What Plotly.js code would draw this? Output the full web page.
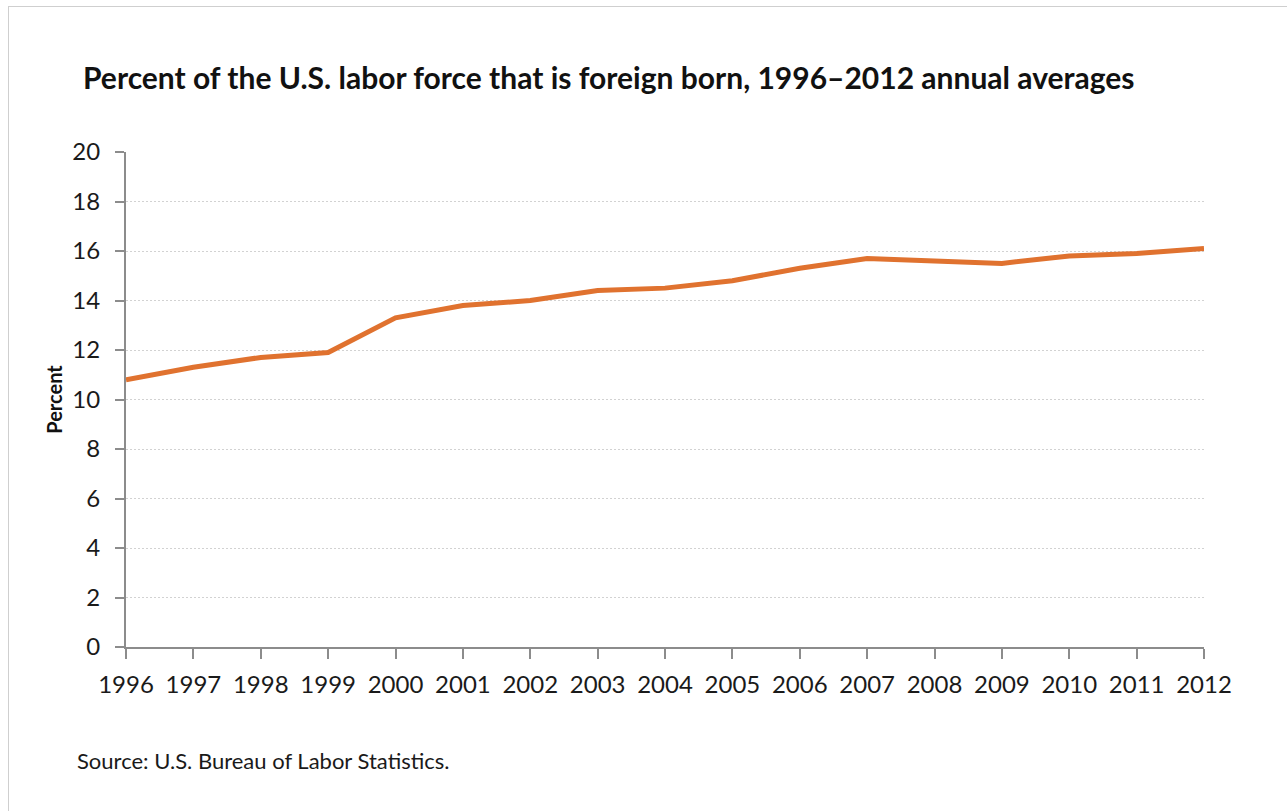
<!DOCTYPE html>
<html>
<head>
<meta charset="utf-8">
<script src="https://cdn.plot.ly/plotly-3.0.1.min.js"></script>
<style>
  html, body { margin: 0; padding: 0; background: #ffffff; }
  #chart { width: 1287px; height: 811px; }
  #frame { position: absolute; left: 8px; top: 6px; width: 1400px; height: 900px;
           border-left: 1px solid #cfcfcf; border-top: 1px solid #cfcfcf; pointer-events: none; }
</style>
</head>
<body>
<div id="chart"></div>
<div id="frame"></div>
<script>
const years = [1996, 1997, 1998, 1999, 2000, 2001, 2002, 2003, 2004, 2005, 2006, 2007, 2008, 2009, 2010, 2011, 2012];
const percentForeignBorn = [10.8, 11.3, 11.7, 11.9, 13.3, 13.8, 14.0, 14.4, 14.5, 14.8, 15.3, 15.7, 15.6, 15.5, 15.8, 15.9, 16.1];
const yTicks = [0, 2, 4, 6, 8, 10, 12, 14, 16, 18, 20];
const titleText = "Percent of the U.S. labor force that is foreign born, 1996–2012 annual averages";
const yTitleText = "Percent";
const sourceText = "Source: U.S. Bureau of Labor Statistics.";

const font = "Lato, 'Open Sans', sans-serif";

const trace = {
  x: years,
  y: percentForeignBorn,
  type: "scatter",
  mode: "lines",
  line: { color: "#E0722F", width: 5 },
  hoverinfo: "x+y"
};

const layout = {
  width: 1287,
  height: 811,
  autosize: false,
  margin: { l: 126, r: 83, t: 152, b: 164 },
  paper_bgcolor: "#ffffff",
  plot_bgcolor: "#ffffff",
  showlegend: false,
  font: { family: font, color: "#1a1a1a" },
  title: {
    text: "<b>" + titleText + "</b>",
    font: { family: font, size: 30, color: "#111111" },
    x: 83 / 1287, xanchor: "left", xref: "container",
    y: 1 - 78 / 811, yanchor: "middle", yref: "container"
  },
  xaxis: {
    range: [1996, 2012],
    tickvals: years,
    ticktext: years.map(String),
    showgrid: false,
    zeroline: false,
    showline: true,
    linecolor: "#8c8c8c",
    linewidth: 2,
    ticks: "outside",
    ticklen: 10,
    tickwidth: 2,
    tickcolor: "#8c8c8c",
    ticklabelstandoff: 5,
    tickfont: { family: font, size: 24, color: "#1a1a1a" },
    fixedrange: true
  },
  yaxis: {
    range: [0, 20],
    tickvals: yTicks,
    ticktext: yTicks.map(String),
    showgrid: true,
    gridcolor: "#d2d2d2",
    griddash: "2px,2px",
    gridwidth: 1,
    zeroline: false,
    showline: true,
    linecolor: "#8c8c8c",
    linewidth: 2,
    ticks: "outside",
    ticklen: 9,
    tickwidth: 2,
    tickcolor: "#8c8c8c",
    ticklabelstandoff: 10,
    tickfont: { family: font, size: 24, color: "#1a1a1a" },
    title: {
      text: "<b>" + yTitleText + "</b>",
      font: { family: font, size: 20, color: "#111111" },
      standoff: 4
    },
    fixedrange: true
  },
  annotations: [
    {
      text: sourceText,
      xref: "paper", yref: "paper",
      x: (75 - 126) / 1078, y: (647 - 760) / 495,
      xanchor: "left", yanchor: "middle",
      showarrow: false,
      font: { family: font, size: 22, color: "#1a1a1a" }
    }
  ]
};

Plotly.newPlot("chart", [trace], layout, { displayModeBar: false, staticPlot: true });
</script>
</body>
</html>
